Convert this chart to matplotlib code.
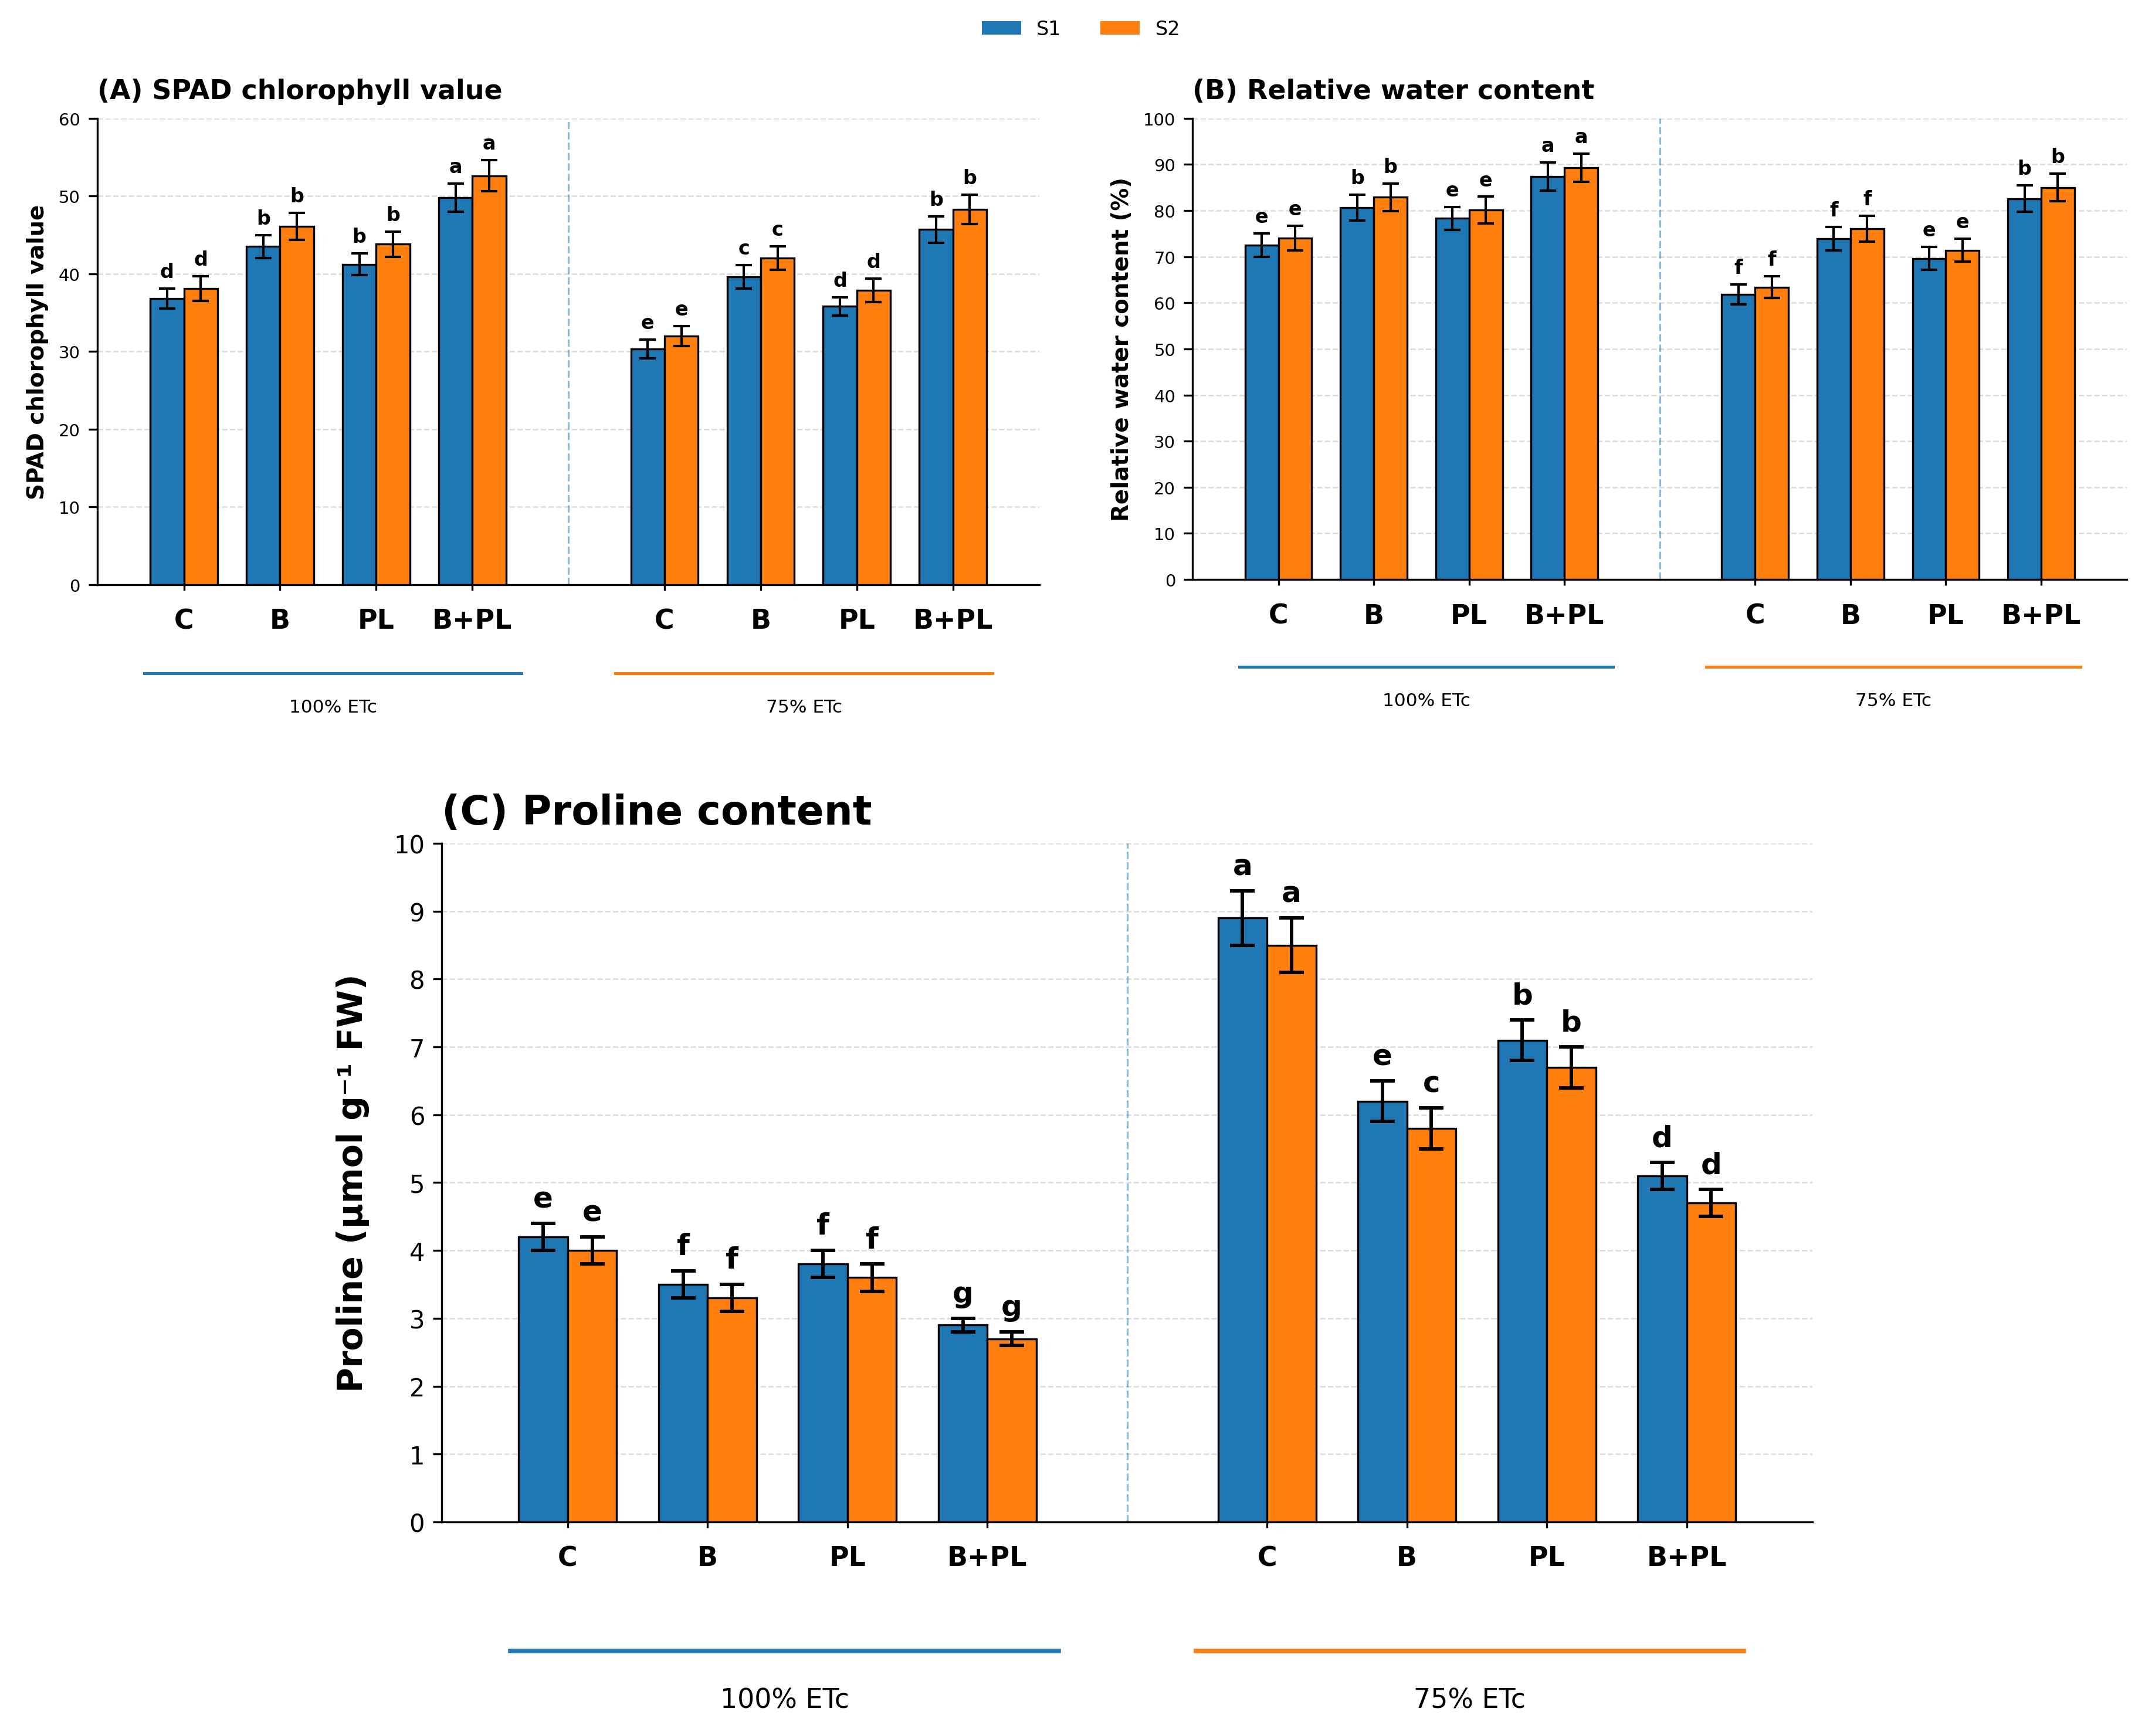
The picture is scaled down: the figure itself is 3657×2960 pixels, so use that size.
import numpy as np
import matplotlib
matplotlib.use('Agg')
import matplotlib.pyplot as plt
from matplotlib.patches import Patch

# groups and treatments
categories = ['C', 'B', 'PL', 'B+PL']
regimes = ['100% ETc', '75% ETc']
seasons = ['S1', 'S2']

# (A) SPAD chlorophyll value
spad_s1 = [36.8, 43.5, 41.2, 49.8, 30.3, 39.6, 35.8, 45.7]
spad_s1_err = [1.3, 1.5, 1.4, 1.8, 1.2, 1.5, 1.2, 1.7]
spad_s2 = [38.1, 46.1, 43.8, 52.6, 32.0, 42.0, 37.9, 48.3]
spad_s2_err = [1.6, 1.7, 1.6, 2.0, 1.3, 1.5, 1.5, 1.9]
spad_s1_letters = ['d', 'b', 'b', 'a', 'e', 'c', 'd', 'b']
spad_s2_letters = ['d', 'b', 'b', 'a', 'e', 'c', 'd', 'b']

# (B) relative water content
rwc_s1 = [72.5, 80.6, 78.3, 87.4, 61.8, 73.9, 69.6, 82.6]
rwc_s1_err = [2.5, 2.8, 2.5, 3.1, 2.2, 2.5, 2.5, 2.9]
rwc_s2 = [74.0, 82.9, 80.1, 89.3, 63.4, 76.1, 71.4, 85.0]
rwc_s2_err = [2.7, 3.0, 2.9, 3.1, 2.4, 2.8, 2.5, 3.0]
rwc_s1_letters = ['e', 'b', 'e', 'a', 'f', 'f', 'e', 'b']
rwc_s2_letters = ['e', 'b', 'e', 'a', 'f', 'f', 'e', 'b']

# (C) proline
pro_s1 = [4.2, 3.5, 3.8, 2.9, 8.9, 6.2, 7.1, 5.1]
pro_s1_err = [0.2, 0.2, 0.2, 0.1, 0.4, 0.3, 0.3, 0.2]
pro_s2 = [4.0, 3.3, 3.6, 2.7, 8.5, 5.8, 6.7, 4.7]
pro_s2_err = [0.2, 0.2, 0.2, 0.1, 0.4, 0.3, 0.3, 0.2]
pro_s1_letters = ['e', 'f', 'f', 'g', 'a', 'e', 'b', 'd']
pro_s2_letters = ['e', 'f', 'f', 'g', 'a', 'c', 'b', 'd']

c1 = '#1f77b4'
c2 = '#ff7f0e'
width = 0.35
x = np.array([0, 1, 2, 3, 5, 6, 7, 8])


def draw_panel(ax, s1, e1, s2, e2, l1, l2, ymax, ystep, title, ylabel,
               title_fs, label_fs, tick_fs, cat_fs, let_fs, grp_fs,
               cap, elw, line_lw, labelpad):
    ax.bar(x - width / 2, s1, width, yerr=e1, color=c1, edgecolor='black',
           linewidth=0.8, capsize=cap, error_kw=dict(elinewidth=elw, capthick=elw),
           zorder=3)
    ax.bar(x + width / 2, s2, width, yerr=e2, color=c2, edgecolor='black',
           linewidth=0.8, capsize=cap, error_kw=dict(elinewidth=elw, capthick=elw),
           zorder=3)

    # significance letters
    off = 0.024 * ymax
    for xi, v, e, t in zip(x, s1, e1, l1):
        ax.text(xi - width / 2, v + e + off, t, ha='center', va='baseline',
                fontsize=let_fs, fontweight='bold')
    for xi, v, e, t in zip(x, s2, e2, l2):
        ax.text(xi + width / 2, v + e + off, t, ha='center', va='baseline',
                fontsize=let_fs, fontweight='bold')

    ax.axvline(4, color=c1, linestyle='--', linewidth=0.8, alpha=0.5, zorder=1)

    ax.set_xlim(-0.9, 8.9)
    ax.set_ylim(0, ymax)
    ax.set_yticks(np.arange(0, ymax + ystep / 2, ystep))
    ax.set_xticks(x)
    ax.set_xticklabels(categories * 2, fontsize=cat_fs, fontweight='bold')
    ax.tick_params(axis='x', pad=7, length=2.5)
    ax.tick_params(axis='y', labelsize=tick_fs)
    ax.yaxis.grid(True, linestyle='--', color='#c4c4c4', linewidth=0.6, alpha=0.6)
    ax.set_axisbelow(True)
    ax.spines['top'].set_visible(False)
    ax.spines['right'].set_visible(False)

    ax.set_title(title, loc='left', fontsize=title_fs, fontweight='bold', pad=8)
    ax.set_ylabel(ylabel, fontsize=label_fs, fontweight='bold', labelpad=labelpad)

    # water regime brackets under the axis
    for (x0, x1), col, txt in zip([(0.05, 0.45), (0.55, 0.95)], [c1, c2], regimes):
        ax.plot([x0, x1], [-0.19, -0.19], color=col, linewidth=line_lw,
                transform=ax.transAxes, clip_on=False)
        ax.text((x0 + x1) / 2, -0.263, txt, ha='center', va='center',
                fontsize=grp_fs, transform=ax.transAxes)


fig = plt.figure(figsize=(12.19, 9.87), dpi=300)
ax_a = fig.add_axes([0.0454, 0.663, 0.4392, 0.2685])
ax_b = fig.add_axes([0.556, 0.666, 0.4356, 0.2655])
ax_c = fig.add_axes([0.206, 0.1233, 0.639, 0.3907])

draw_panel(ax_a, spad_s1, spad_s1_err, spad_s2, spad_s2_err,
           spad_s1_letters, spad_s2_letters, 60, 10,
           '(A) SPAD chlorophyll value', 'SPAD chlorophyll value',
           11, 9.3, 7, 11, 8, 7.5, 3.4, 1.0, 1.2, 4)
draw_panel(ax_b, rwc_s1, rwc_s1_err, rwc_s2, rwc_s2_err,
           rwc_s1_letters, rwc_s2_letters, 100, 10,
           '(B) Relative water content', 'Relative water content (%)',
           11, 9.3, 7, 11, 8, 7.5, 3.4, 1.0, 1.2, 4)
draw_panel(ax_c, pro_s1, pro_s1_err, pro_s2, pro_s2_err,
           pro_s1_letters, pro_s2_letters, 10, 1,
           '(C) Proline content', 'Proline (μmol g⁻¹ FW)',
           16.5, 14, 10, 11, 12, 11, 5, 1.4, 1.8, 10)

handles = [Patch(facecolor=c1, label=seasons[0]), Patch(facecolor=c2, label=seasons[1])]
fig.legend(handles=handles, loc='center', bbox_to_anchor=(0.504, 0.983), ncol=2,
           frameon=False, fontsize=8)

fig.savefig('out.png', dpi=300)
